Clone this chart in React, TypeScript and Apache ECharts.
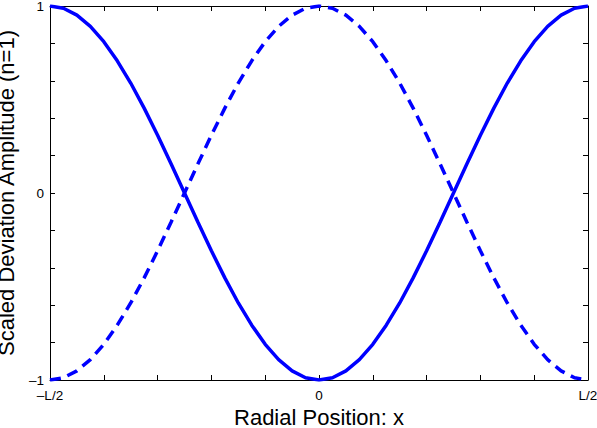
import React, { useEffect, useRef } from "react";
import * as echarts from "echarts";

const xPositions = [
  -0.5, -0.475, -0.45, -0.425, -0.4, -0.375, -0.35, -0.325, -0.3, -0.275, -0.25,
  -0.225, -0.2, -0.175, -0.15, -0.125, -0.1, -0.075, -0.05, -0.025, 0,
  0.025, 0.05, 0.075, 0.1, 0.125, 0.15, 0.175, 0.2, 0.225, 0.25,
  0.275, 0.3, 0.325, 0.35, 0.375, 0.4, 0.425, 0.45, 0.475, 0.5,
];
const solidValues = [
  1, 0.988, 0.951, 0.891, 0.809, 0.707, 0.588, 0.454, 0.309, 0.156, 0,
  -0.156, -0.309, -0.454, -0.588, -0.707, -0.809, -0.891, -0.951, -0.988, -1,
  -0.988, -0.951, -0.891, -0.809, -0.707, -0.588, -0.454, -0.309, -0.156, 0,
  0.156, 0.309, 0.454, 0.588, 0.707, 0.809, 0.891, 0.951, 0.988, 1,
];
const dashedValues = [
  -1, -0.988, -0.951, -0.891, -0.809, -0.707, -0.588, -0.454, -0.309, -0.156, 0,
  0.156, 0.309, 0.454, 0.588, 0.707, 0.809, 0.891, 0.951, 0.988, 1,
  0.988, 0.951, 0.891, 0.809, 0.707, 0.588, 0.454, 0.309, 0.156, 0,
  -0.156, -0.309, -0.454, -0.588, -0.707, -0.809, -0.891, -0.951, -0.988, -1,
];
const xTickLabels: [number, string][] = [
  [-0.5, "–L/2"],
  [0, "0"],
  [0.5, "L/2"],
];
const yTickLabels: [number, string][] = [
  [-1, "–1"],
  [0, "0"],
  [1, "1"],
];
const xTitle = "Radial Position: x";
const yTitle = "Scaled Deviation Amplitude (n=1)";

const FONT = "Liberation Sans, Arial, Helvetica, sans-serif";

function labelFor(list: [number, string][], v: number) {
  for (const [k, s] of list) if (Math.abs(k - v) < 1e-6) return s;
  return "";
}

export default function App() {
  const ref = useRef<HTMLDivElement>(null);
  useEffect(() => {
    if (!ref.current) return;
    const chart = echarts.init(ref.current, undefined, { renderer: "svg" });
    const axisCommon = {
      type: "value" as const,
      axisLine: { show: true, onZero: false, lineStyle: { color: "#000", width: 1 } },
      axisTick: { show: true, inside: true, length: 5, lineStyle: { color: "#000", width: 1 } },
      splitLine: { show: false },
    };
    chart.setOption({
      animation: false,
      backgroundColor: "#fff",
      grid: {
        left: 50,
        right: 9,
        top: 6,
        bottom: 48,
        containLabel: false,
        outerBoundsMode: "none",
      },
      xAxis: [
        {
          ...axisCommon,
          position: "bottom",
          min: -0.5,
          max: 0.5,
          interval: 0.1,
          axisLabel: {
            show: true,
            margin: 8,
            fontFamily: FONT,
            fontSize: 13.5,
            color: "#000",
            showMinLabel: true,
            showMaxLabel: true,
            hideOverlap: false,
            formatter: (v: number) => labelFor(xTickLabels, v),
          },
          name: xTitle,
          nameLocation: "middle",
          nameGap: 26,
          nameTextStyle: { fontFamily: FONT, fontSize: 22, lineHeight: 22, color: "#000" },
        },
        {
          ...axisCommon,
          position: "top",
          min: -0.5,
          max: 0.5,
          interval: 0.1,
          axisLabel: { show: false },
        },
      ],
      yAxis: [
        {
          ...axisCommon,
          position: "left",
          min: -1,
          max: 1,
          interval: 0.2,
          axisLabel: {
            show: true,
            margin: 6,
            fontFamily: FONT,
            fontSize: 13.5,
            color: "#000",
            hideOverlap: false,
            formatter: (v: number) => labelFor(yTickLabels, v),
          },
          name: yTitle,
          nameLocation: "middle",
          nameGap: 33,
          nameTextStyle: { fontFamily: FONT, fontSize: 22, lineHeight: 22, color: "#000" },
        },
        {
          ...axisCommon,
          position: "right",
          min: -1,
          max: 1,
          interval: 0.2,
          axisLabel: { show: false },
        },
      ],
      series: [
        {
          type: "line",
          data: xPositions.map((x, i) => [x, solidValues[i]]),
          showSymbol: false,
          symbol: "none",
          smooth: false,
          lineStyle: { color: "#0000ff", width: 3.5, type: "solid" },
        },
        {
          type: "line",
          data: xPositions.map((x, i) => [x, dashedValues[i]]),
          showSymbol: false,
          symbol: "none",
          smooth: false,
          lineStyle: { color: "#0000ff", width: 3.5, type: [11, 7] },
        },
      ],
    });
    return () => chart.dispose();
  }, []);
  return <div ref={ref} style={{ width: 597, height: 428, position: "absolute", left: 0, top: 0 }} />;
}
